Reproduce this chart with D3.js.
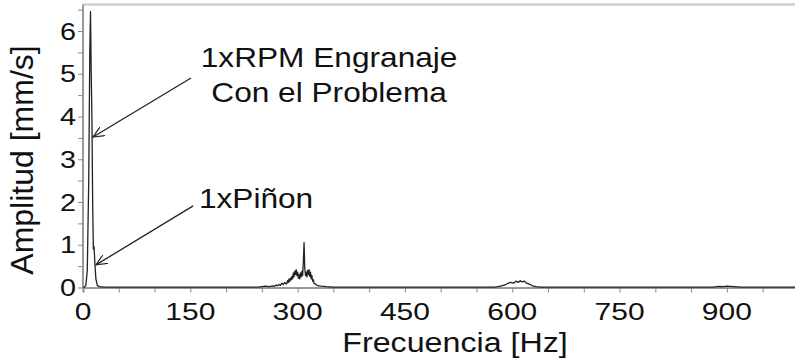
<!DOCTYPE html>
<html>
<head>
<meta charset="utf-8">
<script src="https://cdnjs.cloudflare.com/ajax/libs/d3/7.8.5/d3.min.js"></script>
<style>
	body { margin: 0; background: #fff; }
	text { font-family: "Liberation Sans", Arial, sans-serif; fill: #111; }
</style>
</head>
<body>
<div id="chart"></div>
<script>
// spectrum (Hz / mm/s)
let freqs = [0, 2, 4, 6, 8, 9.5, 10.5, 11.5, 12.5, 13.5, 14.5, 15.5, 16.5, 18, 20, 23, 30,
	120, 245, 250, 255, 260, 265, 268, 270, 272, 274, 276, 278, 280, 282, 284,
	285, 286, 287, 288, 289, 290, 291, 292, 293, 294, 295, 296, 297, 298, 299, 300, 301, 302, 303, 304,
	305, 306, 307, 308, 309, 310, 311, 312, 313, 314, 315, 316, 317, 318, 319, 320, 321, 322, 323,
	325, 327, 330, 333, 340, 350,
	450, 575, 580, 585, 590, 594, 598, 602, 605, 608, 611, 614, 617, 620, 624, 628, 633, 640,
	760, 880, 890, 895, 900, 905, 910, 920, 1000];
let amps = [0, 0.01, 0.05, 0.4, 2.5, 5.5, 6.45, 5.0, 3.9, 2.0, 0.9, 0.95, 0.6, 0.2, 0.05, 0.02, 0.01,
	0.01, 0.01, 0.02, 0.03, 0.02, 0.04, 0.03, 0.06, 0.04, 0.07, 0.05, 0.1, 0.07, 0.12, 0.08,
	0.1, 0.16, 0.12, 0.2, 0.14, 0.22, 0.18, 0.26, 0.2, 0.34, 0.25, 0.38, 0.3, 0.42, 0.28, 0.36, 0.22, 0.3, 0.2, 0.34,
	0.25, 0.38, 0.28, 0.6, 1.05, 0.45, 0.28, 0.36, 0.25, 0.4, 0.3, 0.42, 0.26, 0.36, 0.2, 0.28, 0.15, 0.18, 0.1,
	0.08, 0.05, 0.04, 0.03, 0.02, 0.01,
	0.01, 0.01, 0.02, 0.04, 0.06, 0.1, 0.12, 0.1, 0.15, 0.12, 0.16, 0.13, 0.15, 0.1, 0.08, 0.04, 0.02, 0.01,
	0.01, 0.01, 0.025, 0.02, 0.03, 0.025, 0.02, 0.01, 0.01];

let xTicks = [0, 150, 300, 450, 600, 750, 900];
let yTicks = [0, 1, 2, 3, 4, 5, 6];

// annotations, placed in data units (Hz, mm/s)
let notes = [
	{lines: ["1xRPM Engranaje", "Con el Problema"], tx: 344, ty: 5.16, x0: 151, y0: 4.9, x1: 14, y1: 3.52},
	{lines: ["1xPiñon"], tx: 162, ty: 1.86, x0: 154, y0: 1.91, x1: 18.2, y1: 0.53}
];

var w = 795,
	h = 364,
	mLeft = 83,
	mTop = 4.5,
	mBottom = 287.5;

let svg = d3.select("#chart")
			.append("svg")
			.attr("width", w)
			.attr("height", h);

let xScale = d3.scaleLinear().domain([0, 1000]).range([mLeft, mLeft + 715.4]);
let yScale = d3.scaleLinear().domain([0, 6.62]).range([mBottom, mTop]);

// the reference type is a bit wider than Arial, so stretch it horizontally
function label(g, x, y, str, size, sx, anchor) {
	return g.append("text")
			.attr("transform", "translate(" + x + "," + y + ") scale(" + sx + ",1)")
			.attr("text-anchor", anchor)
			.style("font-size", size + "px")
			.text(str);
}

// top border
svg.append("line")
   .attr("x1", mLeft).attr("x2", w)
   .attr("y1", mTop).attr("y2", mTop)
   .attr("stroke", "#d0d0d0").attr("stroke-width", 2.5);

// x axis
let xAxis = d3.axisBottom(xScale).tickValues(d3.range(0, 1001, 50)).tickSize(5).tickFormat("");
let gx = svg.append("g").attr("transform", "translate(0," + mBottom + ")").call(xAxis);
gx.select(".domain").attr("stroke", "#999").attr("stroke-width", 2);
gx.selectAll(".tick line").attr("stroke", "#888");

let gxl = svg.append("g");
xTicks.forEach((d) => label(gxl, xScale(d), 320, d, 24, 1.25, "middle"));

// y axis
let yAxis = d3.axisLeft(yScale).tickValues(d3.range(0, 6.6, 0.5)).tickSize(5).tickFormat("");
let gy = svg.append("g").attr("transform", "translate(" + mLeft + ",0)").call(yAxis);
gy.select(".domain").attr("stroke", "#999").attr("stroke-width", 2).attr("d", "M0," + mBottom + "V" + mTop);
gy.selectAll(".tick line").attr("stroke", "#888");

let gyl = svg.append("g");
yTicks.forEach((d) => label(gyl, 76, yScale(d) + 8.5, d, 24, 1.2, "end"));

// axis titles
label(svg, 455, 352, "Frecuencia [Hz]", 28, 1.15, "middle");

svg.append("text")
   .attr("transform", "translate(33,160) rotate(-90)")
   .attr("text-anchor", "middle")
   .style("font-size", "32px")
   .text("Amplitud [mm/s]");

// spectrum
let line = d3.line()
			 .x((d) => xScale(d[0]))
			 .y((d) => yScale(d[1]));

svg.append("path")
   .datum(d3.zip(freqs, amps))
   .attr("d", line)
   .attr("fill", "none")
   .attr("stroke", "#222")
   .attr("stroke-width", 1.3)
   .attr("stroke-linejoin", "round");

// arrows + labels
svg.append("defs").append("marker")
   .attr("id", "arr")
   .attr("viewBox", "0 0 12 10")
   .attr("refX", 11).attr("refY", 5)
   .attr("markerWidth", 12).attr("markerHeight", 10)
   .attr("markerUnits", "userSpaceOnUse")
   .attr("orient", "auto")
   .append("path")
   .attr("d", "M0,0 L11,5 L0,10")
   .attr("fill", "none")
   .attr("stroke", "#222")
   .attr("stroke-width", 1.2);

notes.forEach(function(n){
	svg.append("line")
	   .attr("x1", xScale(n.x0)).attr("y1", yScale(n.y0))
	   .attr("x2", xScale(n.x1)).attr("y2", yScale(n.y1))
	   .attr("stroke", "#222")
	   .attr("stroke-width", 1.3)
	   .attr("marker-end", "url(#arr)");

	let g = svg.append("g");
	n.lines.forEach(function(s, i){
		label(g, xScale(n.tx), yScale(n.ty) + i * 35, s, 28, 1.13, n.lines.length > 1 ? "middle" : "start");
	});
});
</script>
</body>
</html>
